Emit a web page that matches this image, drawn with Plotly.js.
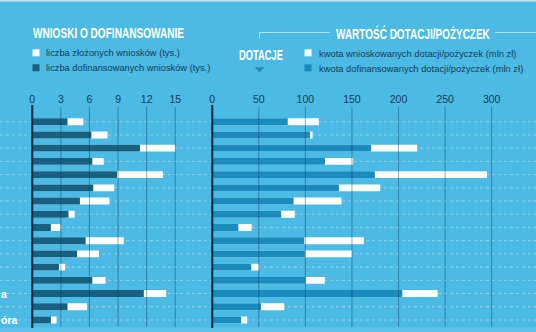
<!DOCTYPE html>
<html><head><meta charset="utf-8">
<script src="https://cdn.plot.ly/plotly-3.0.1.min.js"></script>
<style>html,body{margin:0;padding:0;background:#4bbae4;}#c{width:536px;height:332px;}</style>
</head><body><div id="c"></div>
<script>
// ---- data ----
const cities = ["Białystok","Gdańsk","Katowice","Kielce","Kraków","Lublin","Łódź","Olsztyn","Opole","Poznań","Rzeszów","Szczecin","Toruń","Warszawa","Wrocław","Zielona Góra"];
const visibleRowLabels = {"Warszawa": "a", "Zielona Góra": "óra"};   // only these fragments are visible in the crop
const wnioskiZlozone = [5.35, 7.9, 15.0, 7.5, 13.7, 8.6, 8.1, 4.45, 2.95, 9.6, 7.0, 3.45, 7.7, 14.05, 5.75, 2.55];
const wnioskiDofin   = [3.7, 6.2, 11.3, 6.3, 8.9, 6.4, 5.0, 3.8, 1.95, 5.6, 4.7, 2.8, 6.3, 11.7, 3.7, 1.95];
const kwotaWnioskowana = [114.5, 107.7, 220, 151.3, 295, 180.3, 138.8, 88.7, 42.3, 162.8, 150, 50, 121, 242, 77.3, 37.6];
const kwotaDofin       = [81, 105, 170.6, 121, 174.6, 136, 87.3, 74, 28, 98.7, 99.5, 41.8, 100.2, 204, 52.3, 31];
const leftTicks = [0, 3, 6, 9, 12, 15];
const rightTicks = [0, 50, 100, 150, 200, 250, 300];
const titleLeft = "WNIOSKI O DOFINANSOWANIE";
const titleRight = "WARTOŚĆ DOTACJI/POŻYCZEK";
const subTitle = "DOTACJE";
const legendLeft = ["liczba złożonych wniosków (tys.)", "liczba dofinansowanych wniosków (tys.)"];
const legendRight = ["kwota wnioskowanych dotacji/pożyczek (mln zł)", "kwota dofinansowanych dotacji/pożyczek (mln zł)"];

// ---- styling / geometry ----
const W = 536, H = 332;
const X = p => p / W;
const Y = p => 1 - p / H;
const BG = '#4bbae4', WHITE = '#ffffff', NAVY = '#17607f', MID = '#1b8bbe', TXT = '#173a57';
const SANS = 'Liberation Sans, Arial, sans-serif';
const BOLD = 'Liberation Sans, Arial, sans-serif';
const BW = 0.52;

const traces = [
  {type:'bar', orientation:'h', y:cities, x:wnioskiZlozone, xaxis:'x', yaxis:'y', width:BW, marker:{color:WHITE}, hoverinfo:'skip', showlegend:false},
  {type:'bar', orientation:'h', y:cities, x:wnioskiDofin, xaxis:'x', yaxis:'y', width:BW, marker:{color:NAVY}, hoverinfo:'skip', showlegend:false},
  {type:'bar', orientation:'h', y:cities, x:kwotaWnioskowana, xaxis:'x2', yaxis:'y', width:BW, marker:{color:WHITE}, hoverinfo:'skip', showlegend:false},
  {type:'bar', orientation:'h', y:cities, x:kwotaDofin, xaxis:'x2', yaxis:'y', width:BW, marker:{color:MID}, hoverinfo:'skip', showlegend:false}
];

const shapes = [];
shapes.push({type:'line', xref:'paper', yref:'paper', x0:0, x1:1, y0:Y(0.8), y1:Y(0.8), line:{color:'#c9e4ee', width:1.6}});
shapes.push({type:'rect', xref:'paper', yref:'paper', x0:0, x1:1, y0:0, y1:Y(327.5), fillcolor:'#5ec3ea', line:{width:0}, layer:'below'});
cities.forEach(c => shapes.push({type:'line', xref:'paper', x0:0, x1:1, yref:'y', y0:c, y1:c, layer:'below',
  line:{color:'rgba(255,255,255,0.38)', width:1, dash:'dot'}}));
leftTicks.filter(t => t !== 0).forEach(t => shapes.push({type:'line', xref:'x', x0:t, x1:t, yref:'paper', y0:Y(327), y1:Y(107), layer:'above',
  line:{color:'rgba(12,60,95,0.45)', width:1}}));
rightTicks.filter(t => t !== 0).forEach(t => shapes.push({type:'line', xref:'x2', x0:t, x1:t, yref:'paper', y0:Y(327), y1:Y(107), layer:'above',
  line:{color:'rgba(12,60,95,0.45)', width:1}}));
['x','x2'].forEach(ax => shapes.push({type:'line', xref:ax, x0:0, x1:0, yref:'paper', y0:Y(328), y1:Y(105), layer:'above',
  line:{color:'#0e2a3c', width:2}}));
shapes.push({type:'path', xref:'paper', yref:'paper', path:`M${X(259.5)},${Y(38.5)} L${X(259.5)},${Y(32.5)} L${X(330)},${Y(32.5)}`, line:{color:'#b6e2f3', width:1}});
shapes.push({type:'line', xref:'paper', yref:'paper', x0:X(495), x1:1, y0:Y(32.5), y1:Y(32.5), line:{color:'#b6e2f3', width:1}});
shapes.push({type:'path', xref:'paper', yref:'paper', path:`M${X(254.5)},${Y(67.3)} L${X(264.5)},${Y(67.3)} L${X(259.5)},${Y(72.3)} Z`, fillcolor:'#2a86b8', line:{width:0}});
const sq = (x, y, col) => shapes.push({type:'rect', xref:'paper', yref:'paper', x0:X(x), x1:X(x+7), y0:Y(y+7), y1:Y(y), fillcolor:col, line:{width:0}});
sq(32.5, 49.3, WHITE); sq(32.5, 64.3, NAVY);
sq(304.5, 49.3, WHITE); sq(304.5, 64.3, MID);

const ann = [];
const txt = (t, x, y, size, color, family, bold) => ann.push({text: bold ? '<b>'+t+'</b>' : t, xref:'paper', yref:'paper', x:X(x), y:Y(y),
  xanchor:'left', yanchor:'middle', showarrow:false, font:{size:size, color:color, family:family}});
// condensed titles: [text, left px, centre y px, target width px]
const condTitles = [[titleLeft, 32.3, 32.6, 151], [titleRight, 335, 33, 154], [subTitle, 237.7, 54, 44]];
condTitles.forEach(c => txt(c[0], c[1] - 1, c[2], 15, WHITE, BOLD, true));
txt(legendLeft[0], 44, 53, 9.3, TXT, SANS, false);
txt(legendLeft[1], 44, 68, 9.3, TXT, SANS, false);
txt(legendRight[0], 316.5, 53.5, 9.4, TXT, SANS, false);
txt(legendRight[1], 316.5, 68.5, 9.4, TXT, SANS, false);
Object.keys(visibleRowLabels).forEach(c => ann.push({text:'<b>'+visibleRowLabels[c]+'</b>', xref:'paper', x:X(-1), yref:'y', y:c,
  xanchor:'left', yanchor:'middle', showarrow:false, font:{size:10.5, color:WHITE, family:BOLD}}));

const axCommon = {side:'top', showgrid:false, zeroline:false, showline:false, ticks:'', fixedrange:true,
  tickfont:{size:10.5, color:TXT, family:SANS}, anchor:'y'};
const layout = {
  width:W, height:H, margin:{l:0, r:0, t:0, b:0}, paper_bgcolor:BG, plot_bgcolor:'rgba(0,0,0,0)',
  barmode:'overlay', showlegend:false,
  xaxis: Object.assign({}, axCommon, {domain:[X(27.5), X(194.3)], range:[-0.5, 17], tickvals:leftTicks, ticktext:leftTicks.map(String)}),
  xaxis2: Object.assign({}, axCommon, {domain:[X(207.6), 1], range:[-5, 347.6], tickvals:rightTicks, ticktext:rightTicks.map(String)}),
  yaxis: {type:'category', domain:[Y(327), Y(106)], range:[15.53, -1.19], showgrid:false, zeroline:false, showticklabels:false, ticks:'', fixedrange:true},
  shapes: shapes, annotations: ann
};
Plotly.newPlot('c', traces, layout, {staticPlot:true, displayModeBar:false}).then(() => {
  // squeeze the bold titles horizontally to mimic the condensed headline face
  document.querySelectorAll('#c .annotation-text').forEach(el => {
    const c = condTitles.find(t => t[0] === el.textContent);
    if (!c) return;
    const bb = el.getBBox();
    const s = c[3] / bb.width;
    el.setAttribute('transform', `translate(${bb.x},0) scale(${s},1) translate(${-bb.x},0)`);
  });
});
</script></body></html>
